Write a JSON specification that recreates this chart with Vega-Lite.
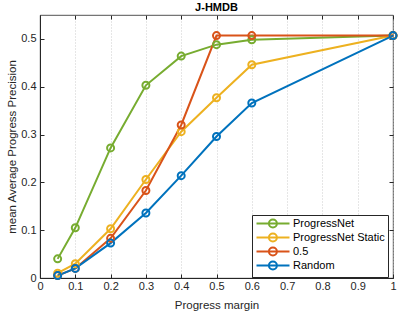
{
  "$schema": "https://vega.github.io/schema/vega-lite/v6.json",
  "width": 353,
  "height": 263,
  "autosize": {"type": "none"},
  "padding": {"left": 40, "top": 15, "right": 6, "bottom": 35},
  "background": "white",
  "title": {"text": "J-HMDB", "font": "Liberation Sans", "fontSize": 11, "fontWeight": "bold", "color": "#000000", "offset": 2},
  "config": {
    "view": {"stroke": "#262626", "strokeWidth": 0.8},
    "axis": {"labelFont": "Liberation Sans", "titleFont": "Liberation Sans", "labelFontSize": 11, "titleFontSize": 11.5, "titleFontWeight": "normal", "labelColor": "#262626", "titleColor": "#262626", "domainColor": "#262626", "tickColor": "#262626", "tickSize": -4, "format": "~g"}
  },
  "data": {"values": [
    {"m": "ProgressNet", "x": 0.05, "y": 0.04},
    {"m": "ProgressNet", "x": 0.1, "y": 0.105},
    {"m": "ProgressNet", "x": 0.2, "y": 0.272},
    {"m": "ProgressNet", "x": 0.3, "y": 0.403},
    {"m": "ProgressNet", "x": 0.4, "y": 0.464},
    {"m": "ProgressNet", "x": 0.5, "y": 0.488},
    {"m": "ProgressNet", "x": 0.6, "y": 0.498},
    {"m": "ProgressNet", "x": 1.0, "y": 0.507},
    {"m": "ProgressNet Static", "x": 0.05, "y": 0.01},
    {"m": "ProgressNet Static", "x": 0.1, "y": 0.03},
    {"m": "ProgressNet Static", "x": 0.2, "y": 0.103},
    {"m": "ProgressNet Static", "x": 0.3, "y": 0.206},
    {"m": "ProgressNet Static", "x": 0.4, "y": 0.306},
    {"m": "ProgressNet Static", "x": 0.5, "y": 0.377},
    {"m": "ProgressNet Static", "x": 0.6, "y": 0.446},
    {"m": "ProgressNet Static", "x": 1.0, "y": 0.507},
    {"m": "0.5", "x": 0.05, "y": 0.005},
    {"m": "0.5", "x": 0.1, "y": 0.02},
    {"m": "0.5", "x": 0.2, "y": 0.083},
    {"m": "0.5", "x": 0.3, "y": 0.183},
    {"m": "0.5", "x": 0.4, "y": 0.32},
    {"m": "0.5", "x": 0.5, "y": 0.507},
    {"m": "0.5", "x": 0.6, "y": 0.507},
    {"m": "0.5", "x": 1.0, "y": 0.507},
    {"m": "Random", "x": 0.05, "y": 0.005},
    {"m": "Random", "x": 0.1, "y": 0.02},
    {"m": "Random", "x": 0.2, "y": 0.073},
    {"m": "Random", "x": 0.3, "y": 0.136},
    {"m": "Random", "x": 0.4, "y": 0.214},
    {"m": "Random", "x": 0.5, "y": 0.296},
    {"m": "Random", "x": 0.6, "y": 0.366},
    {"m": "Random", "x": 1.0, "y": 0.507}
  ]},
  "layer": [
    {
      "mark": {"type": "line", "strokeWidth": 2, "point": {"filled": false, "size": 49, "strokeWidth": 2, "fill": "white", "fillOpacity": 0}},
      "encoding": {
        "x": {"field": "x", "type": "quantitative", "scale": {"domain": [0, 1], "nice": false, "zero": false},
          "axis": {"values": [0, 0.1, 0.2, 0.3, 0.4, 0.5, 0.6, 0.7, 0.8, 0.9, 1], "title": "Progress margin", "grid": true, "gridDash": [1, 2], "gridColor": "#bfbfbf", "gridWidth": 0.8, "labelPadding": 6, "titlePadding": 8, "labelFlush": false}},
        "y": {"field": "y", "type": "quantitative", "scale": {"domain": [0, 0.55], "nice": false},
          "axis": {"values": [0, 0.1, 0.2, 0.3, 0.4, 0.5], "title": "mean Average Progress Precision", "grid": false, "labelPadding": 8, "titlePadding": 3}},
        "color": {"field": "m", "type": "nominal",
          "scale": {"domain": ["ProgressNet", "ProgressNet Static", "0.5", "Random"], "range": ["#77AC30", "#EDB120", "#D95319", "#0072BD"]},
          "sort": ["ProgressNet", "ProgressNet Static", "0.5", "Random"],
          "legend": {"title": null, "orient": "none", "legendX": 212, "legendY": 200,
            "symbolType": "M-1,0H7.25M4.1,0A1,1,0,1,1,2.1,0A1,1,0,1,1,4.1,0",
            "symbolSize": 64, "symbolStrokeWidth": 2, "symbolFillColor": "transparent",
            "labelFont": "Liberation Sans", "labelFontSize": 11, "labelColor": "#000000", "labelOffset": 27,
            "rowPadding": -7, "padding": 3, "strokeColor": "#262626", "fillColor": "white", "cornerRadius": 0}
        }
      }
    },
    {
      "mark": {"type": "point", "opacity": 0},
      "encoding": {
        "x": {"field": "x", "type": "quantitative",
          "axis": {"orient": "top", "values": [0, 0.1, 0.2, 0.3, 0.4, 0.5, 0.6, 0.7, 0.8, 0.9, 1], "labels": false, "title": null, "grid": false, "domain": false}},
        "y": {"field": "y", "type": "quantitative",
          "axis": {"orient": "right", "values": [0, 0.1, 0.2, 0.3, 0.4, 0.5], "labels": false, "title": null, "grid": false, "domain": false}}
      }
    }
  ],
  "resolve": {"axis": {"x": "independent", "y": "independent"}}
}
